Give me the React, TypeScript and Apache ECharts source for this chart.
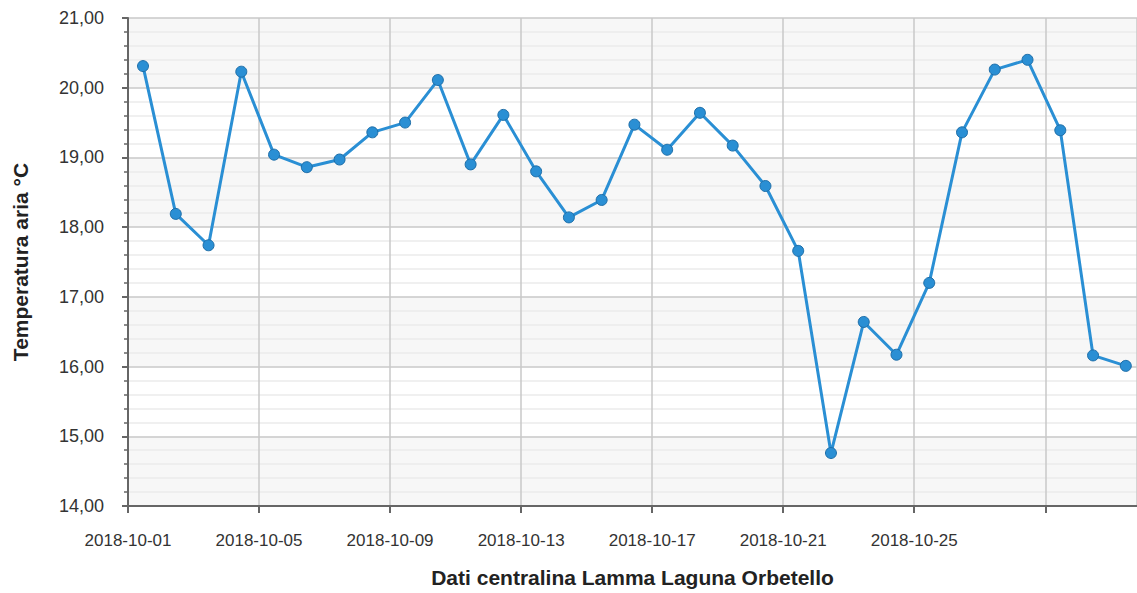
import React, { useEffect, useRef } from 'react';
import * as echarts from 'echarts';

const dates = [
  '2018-10-01', '2018-10-02', '2018-10-03', '2018-10-04', '2018-10-05', '2018-10-06', '2018-10-07', '2018-10-08',
  '2018-10-09', '2018-10-10', '2018-10-11', '2018-10-12', '2018-10-13', '2018-10-14', '2018-10-15', '2018-10-16',
  '2018-10-17', '2018-10-18', '2018-10-19', '2018-10-20', '2018-10-21', '2018-10-22', '2018-10-23', '2018-10-24',
  '2018-10-25', '2018-10-26', '2018-10-27', '2018-10-28', '2018-10-29', '2018-10-30', '2018-10-31',
];
const temps = [
  20.31, 18.19, 17.74, 20.23, 19.04, 18.86, 18.97, 19.36,
  19.5, 20.11, 18.9, 19.61, 18.8, 18.14, 18.39, 19.47,
  19.11, 19.64, 19.17, 18.59, 17.66, 14.76, 16.64, 16.17,
  17.2, 19.36, 20.26, 20.4, 19.39, 16.16, 16.01,
];
const readingHour = 11;
const startDate = '2018-10-01';
const xMaxDays = 30.8;
const tickDays = 4;
const yMin = 14;
const yMax = 21;
const xName = 'Dati centralina Lamma Laguna Orbetello';
const yName = 'Temperatura aria °C';

const DAY = 86400000;

export default function App() {
  const ref = useRef<HTMLDivElement>(null);
  useEffect(() => {
    document.body.style.margin = '0';
    if (!ref.current) return;
    const chart = echarts.init(ref.current, undefined, { renderer: 'svg' });
    const t0 = Date.parse(startDate);
    const data = dates.map((d, i) => [(Date.parse(d) - t0) / DAY + readingHour / 24, temps[i]]);
    const font = 'Liberation Sans, Arial, sans-serif';
    chart.setOption({
      animation: false,
      textStyle: { fontFamily: font },
      grid: { left: 128, right: 0, top: 18, bottom: 85, containLabel: false },
      xAxis: {
        type: 'value',
        min: 0,
        max: xMaxDays,
        interval: tickDays,
        name: xName,
        nameLocation: 'middle',
        nameGap: 61,
        nameTextStyle: { fontSize: 21, fontWeight: 'bold', color: '#222', fontFamily: font },
        axisLine: { show: true, lineStyle: { color: '#666', width: 2 } },
        axisTick: { show: true, length: 7, lineStyle: { color: '#666', width: 2 } },
        axisLabel: {
          fontSize: 17,
          color: '#333',
          margin: 26,
          fontFamily: font,
          showMaxLabel: false,
          formatter: (v: number) => {
            if (v + tickDays > xMaxDays) return '';
            return new Date(t0 + v * DAY).toISOString().slice(0, 10);
          },
        },
        splitLine: { show: true, lineStyle: { color: '#c8c8c8', width: 1.5 } },
      },
      yAxis: {
        type: 'value',
        min: yMin,
        max: yMax,
        interval: 1,
        name: yName,
        nameLocation: 'middle',
        nameGap: 97,
        nameTextStyle: { fontSize: 21, fontWeight: 'bold', color: '#222', fontFamily: font },
        axisLine: { show: true, lineStyle: { color: '#666', width: 2 } },
        axisTick: { show: true, length: 6, lineStyle: { color: '#666', width: 2 } },
        minorTick: { show: true, splitNumber: 5, length: 4, lineStyle: { color: '#666', width: 1.5 } },
        axisLabel: {
          fontSize: 18,
          color: '#333',
          margin: 24,
          fontFamily: font,
          formatter: (v: number) => v.toFixed(2).replace('.', ','),
        },
        splitLine: { show: true, lineStyle: { color: '#c8c8c8', width: 1.5 } },
        minorSplitLine: { show: true, lineStyle: { color: '#ebebeb', width: 1.5 } },
        splitArea: { show: true, areaStyle: { color: ['#f7f7f7', '#ffffff'] } },
      },
      series: [
        {
          type: 'line',
          data,
          symbol: 'circle',
          symbolSize: 11,
          lineStyle: { color: '#2a8fd4', width: 3 },
          itemStyle: { color: '#2a8fd4', borderColor: '#1e6ea8', borderWidth: 1 },
        },
      ],
    });
    return () => chart.dispose();
  }, []);
  return <div ref={ref} style={{ width: 1137, height: 593 }} />;
}
